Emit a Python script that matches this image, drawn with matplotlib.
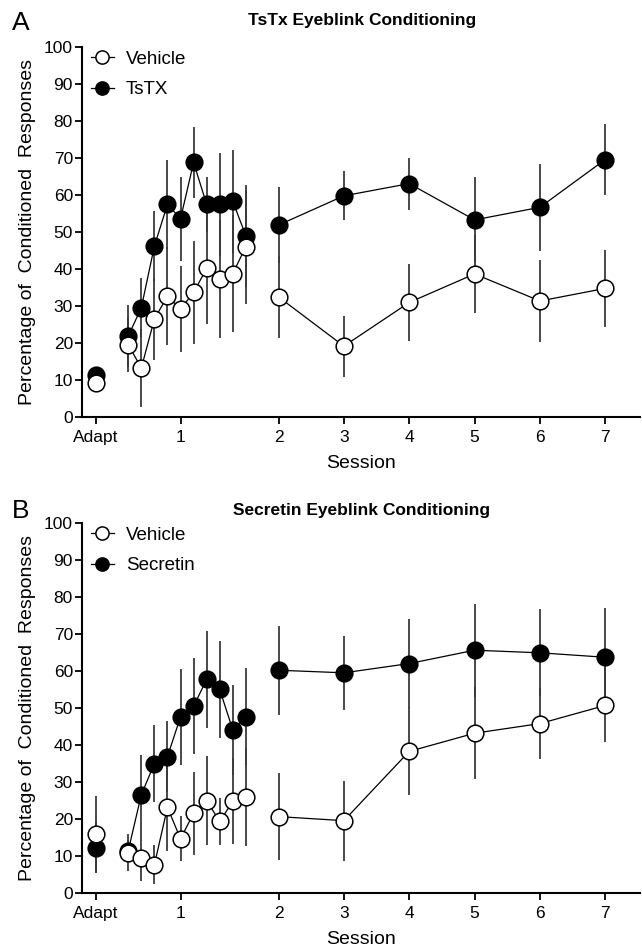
import matplotlib
matplotlib.use("Agg")
import matplotlib.pyplot as plt
from matplotlib.lines import Line2D

plt.rcParams['font.family'] = ['Liberation Sans', 'DejaVu Sans']

# x positions: adaptation, 10 blocks of session 1, sessions 2-7
x_adapt = [-2.5]
x_blocks = [0, 1, 2, 3, 4, 5, 6, 7, 8, 9]
x_sessions = [11.5, 16.5, 21.5, 26.5, 31.5, 36.5]
tick_pos = [-2.5, 4, 11.5, 16.5, 21.5, 26.5, 31.5, 36.5]
tick_labels = ['Adapt', '1', '2', '3', '4', '5', '6', '7']
y_ticks = [0, 10, 20, 30, 40, 50, 60, 70, 80, 90, 100]

# Panel A: TsTx
a_veh_adapt, a_veh_adapt_sem = [9.3], [0.8]
a_drug_adapt, a_drug_adapt_sem = [11.4], [0.8]
a_veh_blocks = [19.6, 13.3, 26.5, 32.7, 29.2, 33.7, 40.2, 37.3, 38.8, 46.1]
a_veh_blocks_sem = [7.4, 10.6, 11.0, 13.3, 11.6, 13.8, 14.9, 16.0, 15.8, 15.4]
a_drug_blocks = [21.9, 29.6, 46.2, 57.5, 53.6, 68.8, 57.5, 57.5, 58.3, 49.0]
a_drug_blocks_sem = [8.4, 7.9, 9.5, 12.0, 11.3, 9.7, 7.5, 14.0, 14.0, 13.8]
a_veh_sess = [32.5, 19.2, 31.0, 38.7, 31.4, 34.8]
a_veh_sess_sem = [11.1, 8.2, 10.4, 10.5, 11.0, 10.5]
a_drug_sess = [51.9, 59.8, 63.1, 53.3, 56.7, 69.6]
a_drug_sess_sem = [10.2, 6.6, 7.0, 11.5, 11.7, 9.5]

# Panel B: Secretin
b_veh_adapt, b_veh_adapt_sem = [15.9], [10.4]
b_drug_adapt, b_drug_adapt_sem = [12.3], [6.9]
b_veh_blocks = [11.0, 9.5, 7.7, 23.2, 14.7, 21.6, 25.0, 19.4, 24.8, 26.1]
b_veh_blocks_sem = [5.0, 6.3, 5.3, 11.9, 6.1, 11.2, 12.0, 6.3, 11.6, 13.2]
b_drug_blocks = [11.5, 26.6, 35.0, 36.9, 47.6, 50.5, 57.7, 55.0, 44.1, 47.7]
b_drug_blocks_sem = [3.0, 10.8, 10.3, 9.5, 13.0, 13.0, 13.2, 13.0, 12.2, 13.1]
b_veh_sess = [20.7, 19.6, 38.3, 43.2, 45.8, 50.7]
b_veh_sess_sem = [11.7, 10.8, 11.9, 12.4, 9.6, 10.0]
b_drug_sess = [60.2, 59.5, 62.0, 65.6, 64.9, 63.7]
b_drug_sess_sem = [12.0, 9.9, 12.1, 12.5, 11.7, 13.3]

panels = [
    dict(letter='A', title='TsTx Eyeblink Conditioning', drug='TsTX',
         title_y=1.06, letter_y=1.045,
         veh=[(x_adapt, a_veh_adapt, a_veh_adapt_sem),
              (x_blocks, a_veh_blocks, a_veh_blocks_sem),
              (x_sessions, a_veh_sess, a_veh_sess_sem)],
         drg=[(x_adapt, a_drug_adapt, a_drug_adapt_sem),
              (x_blocks, a_drug_blocks, a_drug_blocks_sem),
              (x_sessions, a_drug_sess, a_drug_sess_sem)]),
    dict(letter='B', title='Secretin Eyeblink Conditioning', drug='Secretin',
         title_y=1.021, letter_y=1.012,
         veh=[(x_adapt, b_veh_adapt, b_veh_adapt_sem),
              (x_blocks, b_veh_blocks, b_veh_blocks_sem),
              (x_sessions, b_veh_sess, b_veh_sess_sem)],
         drg=[(x_adapt, b_drug_adapt, b_drug_adapt_sem),
              (x_blocks, b_drug_blocks, b_drug_blocks_sem),
              (x_sessions, b_drug_sess, b_drug_sess_sem)]),
]

fig = plt.figure(figsize=(6.42, 9.47), dpi=100)
rects = [[0.1277, 0.5594, 0.869, 0.391], [0.1277, 0.0567, 0.869, 0.3913]]

ms = 12
for rect, p in zip(rects, panels):
    ax = fig.add_axes(rect)
    # error bars first, then lines, then markers (vehicle on top)
    for group, face, z in [(p['drg'], 'black', 3), (p['veh'], 'white', 4)]:
        for xs, ys, es in group:
            ax.errorbar(xs, ys, yerr=es, fmt='none', ecolor='#3a3a3a',
                        elinewidth=1.3, capsize=0, zorder=1)
            ax.plot(xs, ys, color='black', lw=0.9, zorder=2)
            ax.plot(xs, ys, ls='none', marker='o', ms=ms, mfc=face,
                    mec='black', mew=1.1, zorder=z)

    ax.set_xlim(-3.54, 39.15)
    ax.set_ylim(0, 100)
    ax.set_yticks(y_ticks)
    ax.set_xticks(tick_pos)
    ax.set_xticklabels(tick_labels)
    ax.tick_params(labelsize=12.5, width=1.3, length=5, direction='out')
    ax.tick_params(axis='x', pad=4.5)
    ax.tick_params(axis='y', pad=1.5)
    for s in ['top', 'right']:
        ax.spines[s].set_visible(False)
    for s in ['left', 'bottom']:
        ax.spines[s].set_linewidth(1.5)
    ax.set_xlabel('Session', fontsize=14)
    ax.xaxis.set_label_coords(0.5, -0.101)
    ax.set_ylabel('Percentage of  Conditioned  Responses', fontsize=14)
    ax.yaxis.set_label_coords(-0.0824, 0.5)
    ax.text(0.502, p['title_y'], p['title'], transform=ax.transAxes,
            fontsize=12.5, fontweight='bold', ha='center', va='baseline')
    ax.text(-0.11, p['letter_y'], p['letter'], transform=ax.transAxes,
            fontsize=19, ha='center', va='baseline')

    handles = [
        Line2D([], [], color='black', lw=0.9, marker='o', ms=9.5, mfc='white', mec='black', mew=1.1),
        Line2D([], [], color='black', lw=0.9, marker='o', ms=9.5, mfc='black', mec='black', mew=1.1),
    ]
    ax.legend(handles, ['Vehicle', p['drug']], loc='upper left',
              bbox_to_anchor=(0.016, 0.99), frameon=False, fontsize=13.5,
              borderpad=0, borderaxespad=0,
              handlelength=1.23, handletextpad=0.64, labelspacing=0.72)

fig.savefig('out.png', dpi=100)
